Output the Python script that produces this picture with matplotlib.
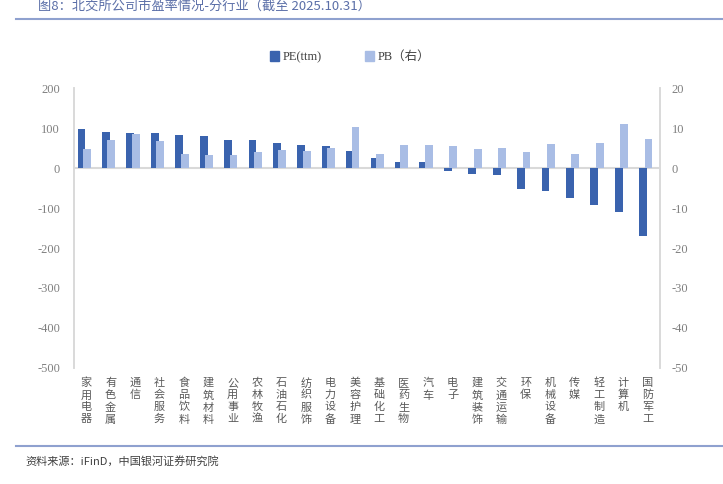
import numpy as np
import matplotlib
matplotlib.use('Agg')
import matplotlib.pyplot as plt
from matplotlib.patches import Patch
from matplotlib.lines import Line2D

industries = ['家用电器', '有色金属', '通信', '社会服务', '食品饮料', '建筑材料',
              '公用事业', '农林牧渔', '石油石化', '纺织服饰', '电力设备', '美容护理',
              '基础化工', '医药生物', '汽车', '电子', '建筑装饰', '交通运输',
              '环保', '机械设备', '传媒', '轻工制造', '计算机', '国防军工']
pe_ttm = [98, 90, 88, 88, 82, 81, 69, 69, 62, 57, 56, 43,
          24, 16, 15, -8, -15, -18, -52, -58, -75, -93, -109, -171]
pb = [4.8, 7.1, 8.5, 6.8, 3.6, 3.3, 3.2, 4.0, 4.4, 4.2, 5.0, 10.2,
      3.5, 5.7, 5.7, 5.5, 4.8, 5.0, 4.1, 6.1, 3.4, 6.2, 10.9, 7.2]

pe_color = '#3A63AE'
pb_color = '#A9BDE5'
grey = '#D9D9D9'
tick_grey = '#808080'
serif_cjk = ['Liberation Serif', 'Noto Sans CJK SC']

plt.rcParams['font.family'] = serif_cjk
plt.rcParams['axes.unicode_minus'] = False

fig = plt.figure(figsize=(7.23, 4.84), dpi=100)
ax = fig.add_axes([74 / 723, 1 - 368 / 484, (660 - 74) / 723, (368 - 88) / 484])
ax2 = ax.twinx()

x = np.arange(len(industries))
ax.bar(x - 0.19, pe_ttm, width=0.32, color=pe_color, zorder=3)
ax2.bar(x + 0.03, pb, width=0.32, color=pb_color, zorder=3)

ax.set_xlim(-0.5, len(industries) - 0.5)
ax.set_ylim(-500, 200)
ax2.set_ylim(-50, 20)
ax.set_yticks(np.arange(-500, 201, 100))
ax2.set_yticks(np.arange(-50, 21, 10))
ax.axhline(0, color=grey, lw=1.5, zorder=2)

for a in (ax, ax2):
    for s in ('top', 'bottom'):
        a.spines[s].set_visible(False)
    a.spines['left'].set_color(grey)
    a.spines['right'].set_color(grey)
    a.spines['left'].set_linewidth(1.2)
    a.spines['right'].set_linewidth(1.2)
    a.tick_params(axis='y', length=0, labelsize=9, labelcolor=tick_grey)
    a.patch.set_visible(False)
ax.tick_params(axis='y', pad=10)
ax2.tick_params(axis='y', pad=8.5)

ax.set_xticks(x)
ax.set_xticklabels(['\n'.join(n) for n in industries], fontsize=8,
                   color='#595959', linespacing=1.25,
                   fontfamily='Noto Sans CJK SC', va='top')
ax.tick_params(axis='x', length=0, pad=7)

# legend
handles = [Patch(color=pe_color, label='PE(ttm)'),
           Patch(color=pb_color, label='PB（右）')]
fig.legend(handles=handles, loc='center', bbox_to_anchor=(350 / 723, 1 - 57 / 484),
           ncol=2, frameon=False, fontsize=9, handlelength=0.7, handleheight=0.9,
           handletextpad=0.3, columnspacing=3.5, labelcolor='#404040')

# title and decorations
fig.text(38 / 723, 1 - 7 / 484, '图8：北交所公司市盈率情况-分行业（截至 2025.10.31）',
         fontsize=9.5, color='#5B6FA8', va='center', ha='left',
         fontfamily=['Noto Sans CJK SC', 'DejaVu Sans'])
fig.add_artist(Line2D([16 / 723, 1], [1 - 19 / 484] * 2, color='#8FA1CF', lw=1.5,
                      transform=fig.transFigure))
fig.add_artist(Line2D([16 / 723, 1], [1 - 446 / 484] * 2, color='#8FA1CF', lw=1.5,
                      transform=fig.transFigure))
fig.text(25 / 723, 1 - 461 / 484, '资料来源：iFinD，中国银河证券研究院',
         fontsize=8, color='#404040', va='center', ha='left', style='italic',
         fontfamily=['Noto Sans CJK SC', 'DejaVu Sans'])

fig.savefig('out.png', dpi=100)
